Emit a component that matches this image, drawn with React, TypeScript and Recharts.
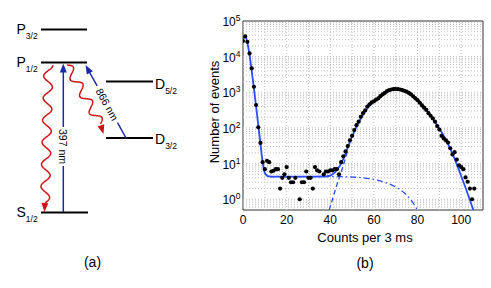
import React from 'react';
import {
  ComposedChart,
  Line,
  Scatter,
  XAxis,
  YAxis,
  ReferenceLine,
  ReferenceArea,
  Customized,
} from 'recharts';

// ---------- data ----------
const dotCounts = [
  0, 1, 2, 3, 4, 5, 6, 7, 8, 9, 10, 11, 12, 13, 14, 15, 16, 17, 18, 19, 20, 21, 22, 23, 24, 26, 27, 28, 29, 30,
  31, 32, 33, 34, 35, 37, 38, 39, 40, 41, 42, 43, 44, 45, 46, 47, 48, 49, 50, 51, 52, 53, 54, 55, 56, 57, 58, 59,
  60, 61, 62, 63, 64, 65, 66, 67, 68, 69, 70, 71, 72, 73, 74, 75, 76, 77, 78, 79, 80, 81, 82, 83, 84, 85, 86, 87,
  88, 89, 90, 91, 92, 93, 94, 95, 96, 97, 98, 99, 100, 101, 102, 103, 104, 105, 106,
];
const dotEvents = [
  27500, 37000, 26000, 12300, 4700, 1430, 440, 104, 38, 11, 7, 12, 11, 6, 6.3, 7, 7, 2, 4, 5, 8, 4, 3, 3, 4, 1, 3, 3, 6, 4,
  4, 2, 8, 6.5, 6, 5, 6, 6, 6.5, 6.5, 7, 7, 5, 11, 16, 22, 31, 45, 60, 87, 120, 150, 205, 260, 310, 400, 460, 520,
  560, 620, 680, 780, 870, 960, 1080, 1150, 1200, 1230, 1240, 1230, 1200, 1150, 1100, 1040, 960, 870, 770, 680, 600, 510, 430, 370, 320, 260, 220, 185,
  150, 113, 90, 60, 51, 45, 39, 27, 18, 21, 13, 9, 8, 7, 4.1, 3.1, 2, 1, 2,
];

const fitCounts = [
  0, 1, 2, 3, 4, 5, 6, 7, 8, 9, 10, 11, 12, 15, 20, 30, 36, 38, 40, 42, 43, 44, 45, 46, 47, 48, 50, 52, 54, 56, 58,
  60, 62, 64, 66, 68, 70, 72, 74, 76, 78, 80, 82, 84, 86, 88, 90, 92, 94, 96, 98, 100, 102, 104, 106,
];
const fitEvents = [
  30000, 37000, 25000, 11000, 4000, 1300, 400, 120, 36, 11, 5.5, 4.6, 4.4, 4.3, 4.3, 4.3, 4.35, 4.4, 4.6, 5.6, 6.6, 8, 10.2, 13.5, 19, 28, 58, 108, 185, 290, 420,
  560, 700, 860, 1020, 1150, 1210, 1190, 1110, 980, 800, 620, 460, 330, 225, 150, 97, 60, 35, 19, 9.5, 4.5, 2.1, 0.95, 0.42,
];

const darkCounts = [12, 20, 30, 40, 45, 50, 55, 60, 65, 70, 74, 77, 80];
const darkEvents = [4.3, 4.3, 4.3, 4.3, 4.3, 4.2, 4.0, 3.6, 3.0, 2.2, 1.5, 0.95, 0.5];

const brightCounts = [39.5, 41, 42, 43, 44, 45, 46, 47, 48];
const brightEvents = [0.5, 1.0, 1.6, 2.5, 3.8, 5.8, 9, 14.5, 24];

const xTicks = [0, 20, 40, 60, 80, 100];
const yTicks = [1, 10, 100, 1000, 10000, 100000];
const xGridValues = [10, 20, 30, 40, 50, 60, 70, 80, 90, 100];

const levelNames = [
  { main: 'P', sub: '3/2' },
  { main: 'P', sub: '1/2' },
  { main: 'D', sub: '5/2' },
  { main: 'D', sub: '3/2' },
  { main: 'S', sub: '1/2' },
];
const transitionLabels = ['397 nm', '866 nm'];

const toPts = (xs: number[], ys: number[]) => xs.map((x, i) => ({ x, y: ys[i] }));
const dots = toPts(dotCounts, dotEvents);
const fit = toPts(fitCounts, fitEvents);
const dark = toPts(darkCounts, darkEvents);
const bright = toPts(brightCounts, brightEvents);

const yGridValues: number[] = [];
[0.1, 1, 10, 100, 1000, 10000].forEach((d) => {
  for (let k = 1; k <= 9; k++) {
    const v = +(d * k).toPrecision(3);
    if (v > 0.5 && v < 100000) yGridValues.push(v);
  }
});

const FONT = '"Liberation Sans", Arial, Helvetica, sans-serif';
const BLUE = '#2a4dff';
const DBLUE = '#1c2aa8';
const RED = '#d01414';

// ---------- helpers for the level diagram ----------
function wavePath(x0: number, y0: number, x1: number, y1: number, periods: number, amp: number, phase: number) {
  const dx = x1 - x0;
  const dy = y1 - y0;
  const L = Math.hypot(dx, dy);
  const nx = -dy / L;
  const ny = dx / L;
  const n = 160;
  let d = '';
  for (let i = 0; i <= n; i++) {
    const t = i / n;
    const off = amp * Math.sin(2 * Math.PI * periods * t + phase);
    const px = x0 + dx * t + nx * off;
    const py = y0 + dy * t + ny * off;
    d += (i === 0 ? 'M' : 'L') + px.toFixed(2) + ' ' + py.toFixed(2) + ' ';
  }
  return d;
}

function arrowHead(tx: number, ty: number, fx: number, fy: number, len: number, hw: number) {
  const dx = tx - fx;
  const dy = ty - fy;
  const L = Math.hypot(dx, dy);
  const ux = dx / L;
  const uy = dy / L;
  const bx = tx - ux * len;
  const by = ty - uy * len;
  return `M${tx} ${ty} L${bx - uy * hw} ${by + ux * hw} L${bx + uy * hw} ${by - ux * hw} Z`;
}

const LevelLabel = ({ x, y, main, sub }: { x: number; y: number; main: string; sub: string }) => (
  <text x={x} y={y} fontFamily={FONT} fontSize={14} fill="#000">
    {main}
    <tspan fontSize={8.5} dy={5}>
      {sub}
    </tspan>
  </text>
);

const Diagram = () => {
  // 866 nm arrow geometry
  const top = { x: 85.5, y: 65 };
  const bot = { x: 126, y: 138 };
  const L = Math.hypot(bot.x - top.x, bot.y - top.y);
  const ux = (bot.x - top.x) / L;
  const uy = (bot.y - top.y) / L;
  const at = (s: number) => ({ x: top.x + ux * s, y: top.y + uy * s });
  const g1 = at(24);
  const g2 = at(66);
  const mid = at(45);
  const ang = (Math.atan2(uy, ux) * 180) / Math.PI;
  const headBase866 = at(8);
  return (
    <g>
      {/* levels */}
      <line x1={41} x2={87} y1={29.5} y2={29.5} stroke="#000" strokeWidth={2} />
      <line x1={41} x2={87} y1={62.5} y2={62.5} stroke="#000" strokeWidth={2} />
      <line x1={106} x2={153} y1={81.5} y2={81.5} stroke="#000" strokeWidth={2} />
      <line x1={106} x2={153} y1={138} y2={138} stroke="#000" strokeWidth={2} />
      <line x1={41} x2={88} y1={212.5} y2={212.5} stroke="#000" strokeWidth={2} />
      <LevelLabel x={16.5} y={34} main={levelNames[0].main} sub={levelNames[0].sub} />
      <LevelLabel x={16.5} y={67} main={levelNames[1].main} sub={levelNames[1].sub} />
      <LevelLabel x={155} y={89} main={levelNames[2].main} sub={levelNames[2].sub} />
      <LevelLabel x={155} y={144} main={levelNames[3].main} sub={levelNames[3].sub} />
      <LevelLabel x={16.5} y={217} main={levelNames[4].main} sub={levelNames[4].sub} />

      {/* 397 nm arrow */}
      <line x1={63.3} x2={63.3} y1={212} y2={166} stroke={DBLUE} strokeWidth={1.5} />
      <line x1={63.3} x2={63.3} y1={127} y2={70} stroke={DBLUE} strokeWidth={1.5} />
      <path d={arrowHead(63.3, 63.5, 63.3, 80, 9, 3.5)} fill={DBLUE} />
      <text
        x={63.3}
        y={146.5}
        transform="rotate(90 63.3 146.5)"
        textAnchor="middle"
        dominantBaseline="central"
        fontFamily={FONT}
        fontSize={10.5}
        fill="#000"
      >
        {transitionLabels[0]}
      </text>

      {/* 866 nm arrow */}
      <line x1={bot.x} y1={bot.y} x2={g2.x} y2={g2.y} stroke={DBLUE} strokeWidth={1.5} />
      <line x1={g1.x} y1={g1.y} x2={headBase866.x} y2={headBase866.y} stroke={DBLUE} strokeWidth={1.5} />
      <path d={arrowHead(top.x, top.y, bot.x, bot.y, 9, 3.5)} fill={DBLUE} />
      <text
        x={mid.x}
        y={mid.y}
        transform={`rotate(${ang} ${mid.x} ${mid.y})`}
        textAnchor="middle"
        dominantBaseline="central"
        fontFamily={FONT}
        fontSize={10.5}
        fill="#000"
      >
        {transitionLabels[1]}
      </text>

      {/* spontaneous decays */}
      <path d={wavePath(48.5, 65, 45, 203, 6.25, 4.5, -Math.PI / 2)} fill="none" stroke={RED} strokeWidth={1.5} />
      <path d={arrowHead(44.5, 212, 45, 200, 9, 3.5)} fill={RED} />
      <path d={wavePath(67, 65, 100.5, 124, 3.5, 4.5, Math.PI)} fill="none" stroke={RED} strokeWidth={1.5} />
      <path d={arrowHead(103.5, 134, 100.5, 124, 9, 3.5)} fill={RED} />

      <text x={92.5} y={262} textAnchor="middle" dominantBaseline="central" fontFamily={FONT} fontSize={14} fill="#000">
        (a)
      </text>

      {/* panel (b) axis titles */}
      <text x={365} y={237} textAnchor="middle" dominantBaseline="central" fontFamily={FONT} fontSize={13} fill="#000">
        Counts per 3 ms
      </text>
      <text
        x={214}
        y={112}
        transform="rotate(-90 214 112)"
        textAnchor="middle"
        dominantBaseline="central"
        fontFamily={FONT}
        fontSize={13}
        fill="#000"
      >
        Number of events
      </text>
      <text x={365} y={263} textAnchor="middle" dominantBaseline="central" fontFamily={FONT} fontSize={14} fill="#000">
        (b)
      </text>
    </g>
  );
};

const XTick = (props: any) => {
  const { x, payload } = props;
  return (
    <text x={x} y={223.5} textAnchor="middle" fontFamily={FONT} fontSize={12} fill="#000">
      {payload.value}
    </text>
  );
};

const YTick = (props: any) => {
  const { y, payload } = props;
  const exp = Math.round(Math.log10(payload.value));
  return (
    <text x={240.5} y={y + 5} textAnchor="end" fontFamily={FONT} fontSize={12} fill="#000">
      10
      <tspan fontSize={8.5} dy={-5}>
        {exp}
      </tspan>
    </text>
  );
};

const Dot = (props: any) => {
  const { cx, cy } = props;
  if (cx == null || cy == null) return null;
  return <circle cx={cx} cy={cy} r={2.1} fill="#000" />;
};

export default function App() {
  return (
    <div style={{ position: 'absolute', left: 0, top: 0, width: 491, height: 288, background: '#fff' }}>
      <ComposedChart width={491} height={288} margin={{ top: 21, right: 8, left: 0, bottom: 0 }}>
        <XAxis
          type="number"
          dataKey="x"
          domain={[0, 110]}
          ticks={xTicks}
          tick={<XTick />}
          axisLine={false}
          tickLine={false}
          height={78}
          allowDataOverflow
        />
        <YAxis
          type="number"
          dataKey="y"
          scale="log"
          domain={[0.5, 100000]}
          ticks={yTicks}
          tick={<YTick />}
          axisLine={false}
          tickLine={false}
          width={243}
          allowDataOverflow
        />
        {yGridValues.map((v) => (
          <ReferenceLine key={'h' + v} y={v} stroke="#bdbdbd" strokeWidth={1} strokeDasharray="1 2" />
        ))}
        {xGridValues.map((v) => (
          <ReferenceLine key={'v' + v} x={v} stroke="#bdbdbd" strokeWidth={1} strokeDasharray="1 2" />
        ))}
        <ReferenceArea x1={0} x2={110} y1={0.5} y2={100000} fill="none" stroke="#333" strokeWidth={1} />
        <Line
          data={dark}
          dataKey="y"
          type="monotone"
          stroke={BLUE}
          strokeWidth={1.3}
          strokeDasharray="6 3 1.5 3"
          dot={false}
          isAnimationActive={false}
        />
        <Line
          data={bright}
          dataKey="y"
          type="monotone"
          stroke={BLUE}
          strokeWidth={1.3}
          strokeDasharray="5 3"
          dot={false}
          isAnimationActive={false}
        />
        <Line data={fit} dataKey="y" type="monotone" stroke={BLUE} strokeWidth={1.8} dot={false} isAnimationActive={false} />
        <Scatter data={dots} dataKey="y" shape={<Dot />} isAnimationActive={false} />
        <Customized component={Diagram} />
      </ComposedChart>
    </div>
  );
}
